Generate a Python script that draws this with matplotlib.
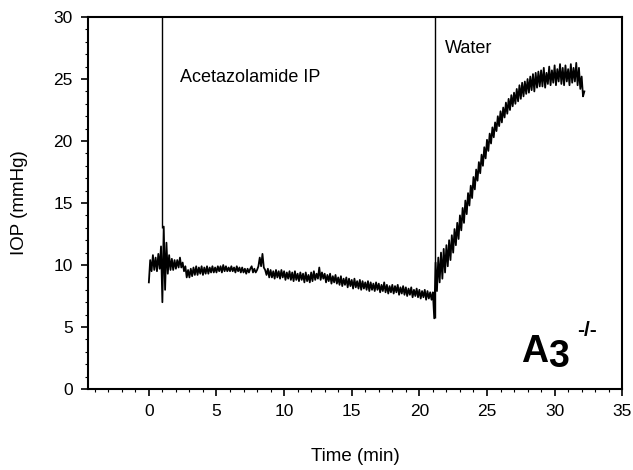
import numpy as np
import matplotlib
matplotlib.use("Agg")
import matplotlib.pyplot as plt
from matplotlib.ticker import MultipleLocator

plt.rcParams['font.family'] = ['Liberation Sans', 'DejaVu Sans']

# IOP trace, one sample every 0.1 min starting at t = 0
t_start = 0.0
t_step = 0.1
iop = [
    8.6, 10.4, 9.5, 10.8, 9.6, 10.6, 9.5, 10.9, 9.7, 11.5,      # 0
    7.0, 13.1, 8.0, 11.8, 9.3, 10.8, 9.6, 10.5, 9.6, 10.4,      # 1
    9.7, 10.4, 9.8, 10.6, 9.8, 10.2, 9.5, 9.9, 9.0, 9.6,        # 2
    9.0, 9.7, 9.1, 9.8, 9.2, 9.9, 9.2, 9.8, 9.3, 9.9,           # 3
    9.2, 9.8, 9.3, 9.9, 9.3, 9.8, 9.4, 9.9, 9.4, 9.8,           # 4
    9.4, 9.9, 9.5, 9.9, 9.4, 10.0, 9.5, 9.9, 9.5, 9.8,          # 5
    9.5, 9.9, 9.5, 9.8, 9.4, 9.9, 9.5, 9.8, 9.4, 9.8,           # 6
    9.4, 9.7, 9.3, 9.7, 9.4, 9.7, 9.9, 9.4, 9.7, 9.4,           # 7
    9.6, 9.9, 10.6, 9.9, 10.9, 9.8, 9.6, 9.2, 9.7, 9.0,         # 8
    9.6, 9.0, 9.5, 8.9, 9.6, 9.0, 9.5, 8.9, 9.6, 9.0,           # 9
    9.5, 8.8, 9.4, 8.9, 9.5, 8.8, 9.4, 8.7, 9.5, 8.8,           # 10
    9.3, 8.7, 9.4, 8.8, 9.3, 8.6, 9.4, 8.7, 9.2, 8.6,           # 11
    9.4, 8.7, 9.5, 8.8, 9.3, 8.9, 9.8, 8.8, 9.4, 8.9,           # 12
    9.3, 8.6, 9.2, 8.7, 9.3, 8.5, 9.1, 8.6, 9.2, 8.5,           # 13
    9.0, 8.4, 9.1, 8.3, 8.9, 8.4, 9.0, 8.2, 8.9, 8.3,           # 14
    8.8, 8.1, 8.9, 8.2, 8.7, 8.1, 8.8, 8.0, 8.7, 8.1,           # 15
    8.6, 8.0, 8.7, 7.9, 8.6, 8.0, 8.5, 7.9, 8.6, 8.0,           # 16
    8.5, 7.8, 8.4, 7.9, 8.6, 7.8, 8.4, 7.7, 8.3, 7.8,           # 17
    8.4, 7.7, 8.3, 7.8, 8.4, 7.6, 8.2, 7.7, 8.3, 7.6,           # 18
    8.2, 7.5, 8.1, 7.6, 8.2, 7.4, 8.0, 7.5, 8.1, 7.4,           # 19
    8.0, 7.3, 7.9, 7.4, 8.0, 7.2, 7.9, 7.3, 7.8, 7.2,           # 20
    7.8, 5.7, 10.2, 7.9, 10.6, 8.6, 11.0, 8.9, 11.3, 9.4,       # 21
    11.6, 9.9, 12.0, 10.4, 12.4, 11.0, 12.9, 11.6, 13.4, 12.1,  # 22
    14.0, 12.8, 14.6, 13.4, 15.2, 14.1, 15.8, 14.8, 16.4, 15.4, # 23
    17.1, 16.1, 17.7, 16.8, 18.3, 17.4, 18.9, 18.0, 19.5, 18.6, # 24
    20.1, 19.2, 20.6, 19.8, 21.1, 20.3, 21.5, 20.8, 22.0, 21.2, # 25
    22.4, 21.5, 22.7, 21.9, 23.1, 22.2, 23.4, 22.5, 23.7, 22.8, # 26
    23.9, 23.0, 24.2, 23.2, 24.5, 23.4, 24.7, 23.6, 24.8, 23.8, # 27
    25.0, 23.9, 25.2, 24.1, 25.4, 24.0, 25.5, 24.3, 25.6, 24.4, # 28
    25.7, 24.4, 25.9, 24.3, 25.5, 24.6, 26.0, 24.5, 25.7, 24.7, # 29
    26.1, 24.5, 25.8, 24.8, 26.2, 24.6, 25.9, 24.5, 26.1, 24.8, # 30
    25.8, 24.5, 26.2, 24.7, 25.9, 24.8, 26.3, 24.5, 25.9, 24.2, # 31
    25.2, 23.6, 24.0,                                           # 32
]

# injection markers: time and lower end of the vertical line
marker_times = [1.0, 21.15]
marker_bottoms = [13.0, 5.7]
marker_labels = ["Acetazolamide IP", "Water"]
label_x = [2.3, 21.9]
label_y = [25.1, 27.5]

time = t_start + t_step * np.arange(len(iop))

fig = plt.figure(figsize=(6.33, 4.70), dpi=100)
ax = fig.add_axes([0.139, 0.1723, 0.844, 0.7915])

ax.plot(time, iop, color='black', lw=1.3)
ax.vlines(marker_times, marker_bottoms, 30, color='black', lw=1.0)

for x, y, s in zip(label_x, label_y, marker_labels):
    ax.text(x, y, s, fontsize=13, va='center', ha='left')

# genotype label
ax.text(0.811, 0.073, "A", transform=ax.transAxes, fontsize=27,
        fontweight='bold', ha='left', va='baseline')
ax.text(0.862, 0.059, "3", transform=ax.transAxes, fontsize=27,
        fontweight='bold', ha='left', va='baseline')
ax.text(0.916, 0.156, "-/-", transform=ax.transAxes, fontsize=15,
        fontweight='bold', ha='left', va='center')

ax.set_xlim(-4.5, 35)
ax.set_ylim(0, 30)
ax.xaxis.set_major_locator(MultipleLocator(5))
ax.xaxis.set_minor_locator(MultipleLocator(1))
ax.yaxis.set_major_locator(MultipleLocator(5))
ax.yaxis.set_minor_locator(MultipleLocator(1))
ax.set_xticks(range(0, 36, 5))
ax.tick_params(which='major', direction='out', length=5, width=1.2,
               labelsize=12.5, pad=6)
ax.tick_params(which='minor', direction='out', length=2.5, width=0.8)

for sp in ax.spines.values():
    sp.set_linewidth(1.5)

ax.set_xlabel("Time (min)", fontsize=13.5, labelpad=21)
ax.set_ylabel("IOP (mmHg)", fontsize=13.5, labelpad=18)

fig.savefig("out.png", dpi=100)
